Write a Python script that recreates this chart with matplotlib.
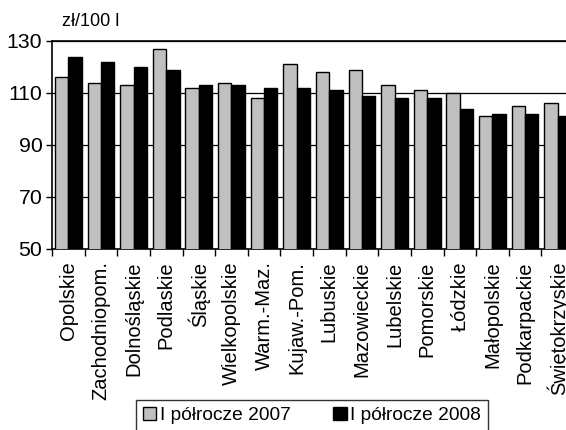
import matplotlib
matplotlib.use("Agg")
import matplotlib.pyplot as plt
import numpy as np

plt.rcParams['font.family'] = ['Liberation Sans', 'DejaVu Sans']

regions = ['Opolskie', 'Zachodniopom.', 'Dolnośląskie', 'Podlaskie', 'Śląskie',
           'Wielkopolskie', 'Warm.-Maz.', 'Kujaw.-Pom.', 'Lubuskie', 'Mazowieckie',
           'Lubelskie', 'Pomorskie', 'Łódzkie', 'Małopolskie', 'Podkarpackie',
           'Świętokrzyskie']
h1_2007 = [116, 114, 113, 127, 112, 114, 108, 121, 118, 119, 113, 111, 110, 101, 105, 106]
h1_2008 = [124, 122, 120, 119, 113, 113, 112, 112, 111, 109, 108, 108, 104, 102, 102, 101]
yticks = [50, 70, 90, 110, 130]

fig = plt.figure(figsize=(5.66, 4.30), dpi=100)
# axes runs a bit past the right edge, like the cropped original
ax = fig.add_axes([52 / 566, 181 / 430, 522 / 566, 208 / 430])

x = np.arange(len(regions))
w = 0.41
ax.bar(x - w / 2, h1_2007, w, color='#c0c0c0', edgecolor='black', linewidth=1,
       label='I półrocze 2007', zorder=3)
ax.bar(x + w / 2, h1_2008, w, color='black', edgecolor='black', linewidth=1,
       label='I półrocze 2008', zorder=3)

ax.set_xlim(-0.5, len(regions) - 0.5)
ax.set_ylim(50, 130)
ax.set_yticks(yticks)
ax.tick_params(axis='y', labelsize=15.3, length=4, width=1, direction='out', pad=3)
ax.yaxis.grid(True, color='black', linewidth=0.9, zorder=0)

ax.set_xticks(x)
ax.set_xticklabels(regions, rotation=90, fontsize=14.5)
ax.tick_params(axis='x', which='major', length=0, pad=9)
ax.set_xticks(np.arange(len(regions) + 1) - 0.5, minor=True)
ax.tick_params(axis='x', which='minor', length=5, width=1, direction='out')

for s in ['left', 'bottom', 'top']:
    ax.spines[s].set_linewidth(1.2)
ax.spines['right'].set_visible(False)

fig.text(62 / 566, 1 - 21 / 430, 'zł/100 l', fontsize=13, va='center', ha='left')

leg = fig.legend(loc='upper center', bbox_to_anchor=(312 / 566, 1 - 400 / 430),
                 ncol=2, fontsize=13.8, frameon=True, fancybox=False,
                 handlelength=0.7, handleheight=0.7, handletextpad=0.2,
                 columnspacing=2.2, borderpad=0.35, borderaxespad=0)
leg.get_frame().set_edgecolor('black')
leg.get_frame().set_linewidth(1)

fig.savefig('out.png', dpi=100)
